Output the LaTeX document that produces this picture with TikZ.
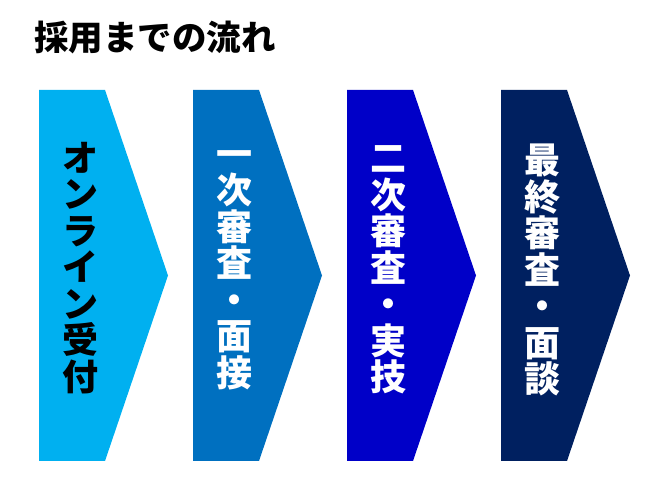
\documentclass[tikz,border=0pt]{standalone}
\usepackage{fontspec}
\setmainfont{Noto Sans CJK JP}[BoldFont={Noto Sans CJK JP Black}]
\usetikzlibrary{positioning}

\definecolor{stepA}{RGB}{0,176,240}
\definecolor{stepB}{RGB}{0,112,192}
\definecolor{stepC}{RGB}{0,0,200}
\definecolor{stepD}{RGB}{0,32,96}

\tikzset{
  steptext/.style={font=\fontsize{36}{36.5}\selectfont\bfseries, align=center, inner sep=0pt},
}

\begin{document}
\begin{tikzpicture}[x=1pt,y=-1pt]
\useasboundingbox (0,0) rectangle (670,502);

\node[anchor=west, inner sep=0pt, font=\fontsize{34.5}{34.5}\selectfont\bfseries](title) at (34,37){採用までの流れ};

\fill[stepA] (39,90) -- (105,90) -- (168,275.5) -- (105,461) -- (39,461) -- cycle;
\fill[stepB] (193,90) -- (259,90) -- (322,275.5) -- (259,461) -- (193,461) -- cycle;
\fill[stepC] (347,90) -- (413,90) -- (476,275.5) -- (413,461) -- (347,461) -- cycle;
\fill[stepD] (501,90) -- (567,90) -- (630,275.5) -- (567,461) -- (501,461) -- cycle;

\node[steptext, text=black](online) at (80,268){オ\\ン\\ラ\\イ\\ン\\受\\付};
\node[steptext, text=white](first) at (234,270){一\\次\\審\\査\\・\\面\\接};
\node[steptext, text=white](second) at (388,270){二\\次\\審\\査\\・\\実\\技};
\node[steptext, text=white](final) at (542,270){最\\終\\審\\査\\・\\面\\談};

\end{tikzpicture}
\end{document}
